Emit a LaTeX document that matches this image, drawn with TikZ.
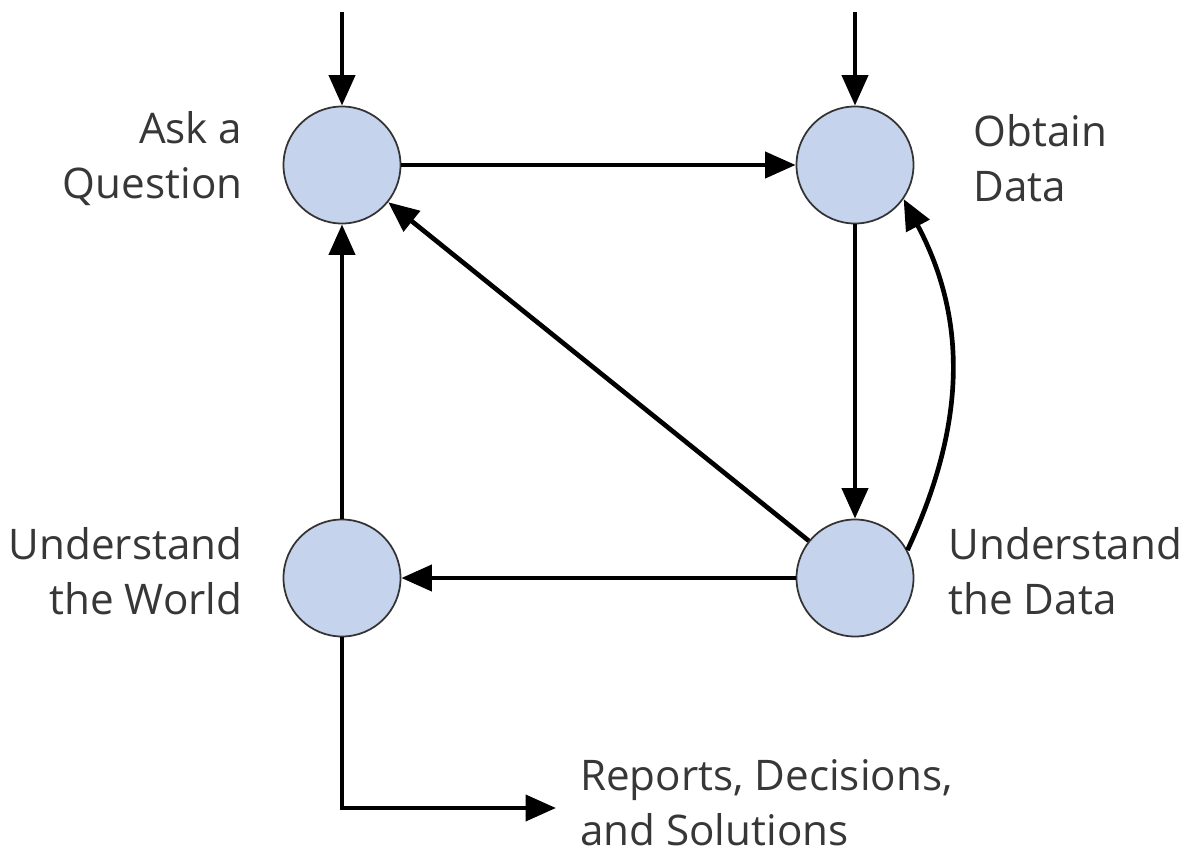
\documentclass[tikz,border=0pt]{standalone}
\usepackage{fontspec}
\setmainfont{Open Sans}
\usepackage{tikz}
\usetikzlibrary{arrows.meta, positioning}
\definecolor{stagefill}{RGB}{197,212,236}
\definecolor{labelgray}{RGB}{55,55,55}

\begin{document}
\begin{tikzpicture}[x=0.03cm, y=-0.03cm,
		stage/.style={circle, draw=black!80, line width=1.5pt, fill=stagefill, minimum size=3.51cm, inner sep=0pt},
		lbl/.style={inner sep=0pt, text=labelgray, font=\fontsize{36}{47}\selectfont},
		flow/.style={line width=4pt, -{Triangle[length=26pt, width=22pt]}}]
				\useasboundingbox (0,0) rectangle (1190,862);
				% the four stages
				\node[stage] (ask) at (342,165) {};
				\node[stage] (obtain) at (855,165) {};
				\node[stage] (world) at (342,578) {};
				\node[stage] (data) at (855,578) {};
				\node[lbl, align=right, left=1.2cm of ask, yshift=0.2cm] (asklbl) {Ask a\\Question};
				\node[lbl, align=left, right=1.77cm of obtain, yshift=0.2cm] (obtainlbl) {Obtain\\Data};
				\node[lbl, align=right, left=1.2cm of world, yshift=0.2cm] (worldlbl) {Understand\\the World};
				\node[lbl, align=left, right=1.02cm of data, yshift=0.2cm] (datalbl) {Understand\\the Data};
				\node[lbl, align=left, anchor=west] (report) at (580,803) {Reports, Decisions,\\and Solutions};
				\coordinate (askin) at (342,12);
				\coordinate (obtainin) at (855,12);
				\coordinate (reportin) at (556,808);
				% connectors
				\draw[flow] (askin) -- (ask);
				\draw[flow] (obtainin) -- (obtain);
				\draw[flow] (ask) -- (obtain);
				\draw[flow] (obtain) -- (data);
				\draw[flow] (data.28) to[out=65, in=-62] (obtain.-35);
				\draw[flow] (data) -- (ask);
				\draw[flow] (data) -- (world);
				\draw[flow] (world) -- (ask);
				\draw[flow] (world.south) |- (reportin);
			\end{tikzpicture}
\end{document}
